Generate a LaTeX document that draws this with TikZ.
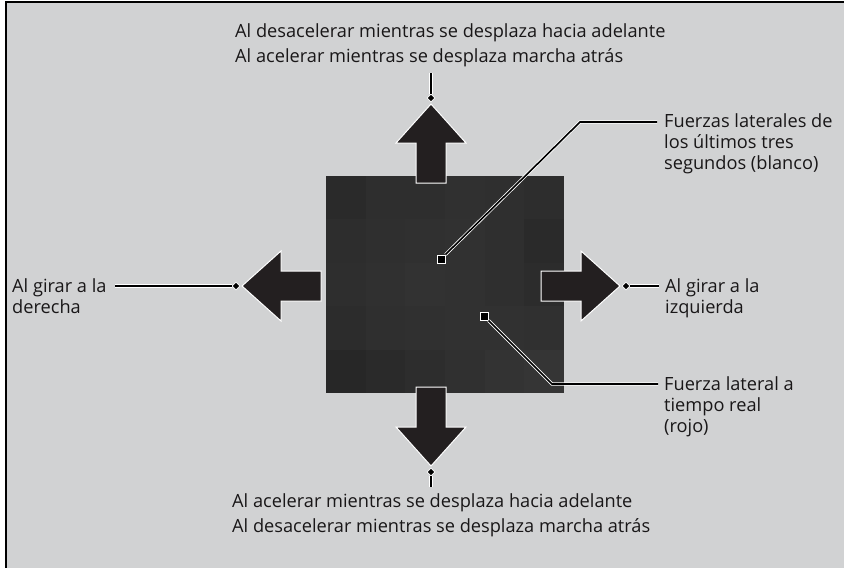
\documentclass[tikz,border=0pt]{standalone}
\usepackage{fontspec}
\setmainfont{Open Sans}
\usetikzlibrary{shapes.geometric, calc}
\definecolor{panel}{RGB}{209,210,211}
\definecolor{arrowfill}{RGB}{35,31,32}
\definecolor{inktext}{RGB}{25,23,24}

\begin{document}
\begin{tikzpicture}[
        x=1pt, y=-1pt,
        lbl/.style={
            font=\fontsize{18.2}{21}\selectfont,
            text=inktext,
            align=left,
            inner sep=0pt,
            anchor=north west
        },
        lblwide/.style={lbl, font=\fontsize{18.2}{25}\selectfont},
        tipmark/.style={
            diamond,
            fill=black,
            draw=white,
            line width=0.8pt,
            inner sep=0pt,
            minimum size=8pt
        },
        spot/.style={
            rectangle,
            fill=black,
            draw=white,
            line width=1pt,
            inner sep=0pt,
            minimum size=8pt
        },
        lead/.style={draw=white, double=black, line width=0.8pt, double distance=1.6pt},
        bigarrow/.pic={
            \fill[arrowfill, draw=white, line width=1pt]
                (0,0) -- (35,39) -- (15,39) -- (15,79) -- (-15,79) -- (-15,39) -- (-35,39) -- cycle;
        }
    ]

        \useasboundingbox (0,0) rectangle (844,568);
        \fill[white] (0,0) rectangle (844,568);
        \fill[panel] (6,2) rectangle (844,568);
        \draw[line width=1.2pt] (6,568) -- (6,2) -- (844,2);

        % display square, tiled
        \foreach \g [count=\k from 0] in {42,46,46,48,47,45, 45,47,48,49,47,42, 46,48,50,49,47,44,
                                          44,47,48,49,49,48, 39,42,45,48,51,53} {
            \pgfmathtruncatemacro\col{mod(\k,6)}
            \pgfmathtruncatemacro\row{div(\k,6)}
            \fill[fill={rgb,255:red,\g;green,\g;blue,\g}]
                (326+\col*39.67,176+\row*43.4) rectangle ++(39.67,43.4);
        }

        % the four arrows
        \pic at (431,104) {bigarrow};
        \pic[rotate=180] at (431,466) {bigarrow};
        \pic[rotate=-90] at (620,286) {bigarrow};
        \pic[rotate=90] at (242,286) {bigarrow};

        \node[tipmark] (dUp) at (431,98) {};
        \node[tipmark] (dDown) at (431,472) {};
        \node[tipmark] (dRight) at (626,286) {};
        \node[tipmark] (dLeft) at (236,286) {};

        \node[spot] (mWhite) at (441,259) {};
        \node[spot] (mRed) at (484,316) {};

        % labels
        \node[lblwide] (topTxt) at (235,23) {Al desacelerar mientras se desplaza hacia adelante\\Al acelerar mientras se desplaza marcha atrás};
        \node[lblwide] (botTxt) at (232,493) {Al acelerar mientras se desplaza hacia adelante\\Al desacelerar mientras se desplaza marcha atrás};
        \node[lbl] (whiteTxt) at (664,113) {Fuerzas laterales de\\los últimos tres\\segundos (blanco)};
        \node[lbl] (redTxt) at (664,376) {Fuerza lateral a\\tiempo real\\(rojo)};
        \node[lbl] (leftTxt) at (12,278) {Al girar a la\\derecha};
        \node[lbl] (rightTxt) at (665,278) {Al girar a la\\izquierda};

        % leader lines
        \draw[lead] (dUp.north) -- ($(dUp |- topTxt.south)+(0,6)$);
        \draw[lead] (dDown.south) -- ($(dDown |- botTxt.north)+(0,-6)$);
        \draw[lead] (dLeft.west) -- ($(dLeft -| leftTxt.east)+(8,0)$);
        \draw[lead] (dRight.east) -- ($(dRight -| rightTxt.west)+(-6,0)$);

        \coordinate (kWhite) at (580,122);
        \coordinate (kRed) at (552,384);
        \draw[lead] (mWhite.north east) -- (kWhite) -- ($(kWhite -| whiteTxt.west)+(-7,0)$);
        \draw[lead] (mRed.south east) -- (kRed) -- ($(kRed -| redTxt.west)+(-6,0)$);

    \end{tikzpicture}
\end{document}
